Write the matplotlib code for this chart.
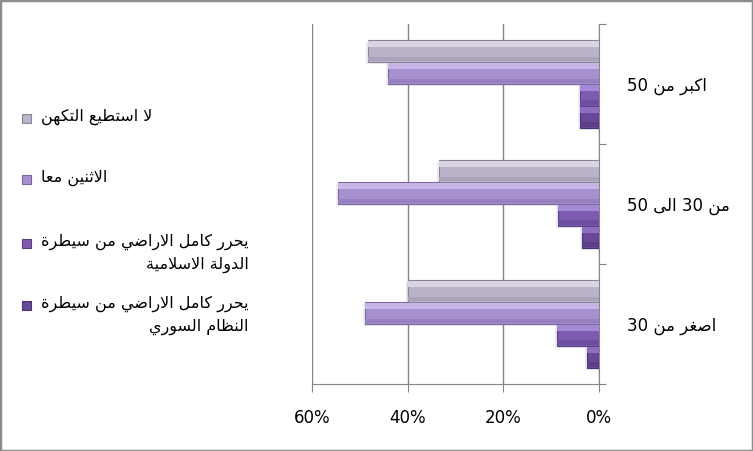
import matplotlib
matplotlib.use("Agg")
import matplotlib.pyplot as plt
from matplotlib.patches import Rectangle
import numpy as np

# Age groups, bottom to top as drawn.
categories = ["اصغر من 30", "من 30 الى 50", "اكبر من 50"]

# Series in drawing order (bottom bar of each group first).
series_names = [
    "يحرر كامل الاراضي من سيطرة\nالنظام السوري",
    "يحرر كامل الاراضي من سيطرة\nالدولة الاسلامية",
    "الاثنين معا",
    "لا استطيع التكهن",
]
regime = [2.5, 3.6, 3.9]
isis = [8.7, 8.6, 3.9]
both = [48.9, 54.6, 44.1]
cant_say = [40.0, 33.5, 48.3]

x_ticks = [0, 20, 40, 60]
x_tick_labels = ["0%", "20%", "40%", "60%"]

# (face, highlight, lower shade, edge) per series
COLORS = [
    ("#684898", "#8d6ebf", "#5a3e86", "#4a2f72"),
    ("#7c5bb1", "#a489d4", "#6c4f9e", "#583e84"),
    ("#a690cf", "#c6b6e6", "#9681bf", "#7c67a3"),
    ("#bab3c9", "#d9d4e4", "#aaa3b9", "#8b8499"),
]

W, H = 753, 451

# --- minimal Arabic shaping: matplotlib does no bidi or joining itself ---
_FOUR = "بتثجحخسشصضطظعغفقكلمنهي"
_FOUR_START = [0xFE8F, 0xFE95, 0xFE99, 0xFE9D, 0xFEA1, 0xFEA5, 0xFEB1,
               0xFEB5, 0xFEB9, 0xFEBD, 0xFEC1, 0xFEC5, 0xFEC9, 0xFECD,
               0xFED1, 0xFED5, 0xFED9, 0xFEDD, 0xFEE1, 0xFEE5, 0xFEE9,
               0xFEF1]
_TWO = "اأإآدذرزوؤةى"
_TWO_START = [0xFE8D, 0xFE83, 0xFE87, 0xFE81, 0xFEA9, 0xFEAB, 0xFEAD,
              0xFEAF, 0xFEED, 0xFE85, 0xFE93, 0xFEEF]
_LAM_ALEF = {"ا": 0xFEFB, "أ": 0xFEF7, "إ": 0xFEF9, "آ": 0xFEF5}
_START = dict(zip(_FOUR, _FOUR_START))
_START.update(zip(_TWO, _TWO_START))


def shape_word(word):
    glyphs = []
    i = 0
    while i < len(word):
        ch = word[i]
        if ch == "ل" and i + 1 < len(word) and word[i + 1] in _LAM_ALEF:
            glyphs.append((_LAM_ALEF[word[i + 1]], 2))
            i += 2
            continue
        if ch in _FOUR:
            glyphs.append((_START[ch], 4))
        elif ch in _TWO:
            glyphs.append((_START[ch], 2))
        else:
            glyphs.append((ch, 0))
        i += 1
    out = []
    for k, (g, n) in enumerate(glyphs):
        if n == 0:
            out.append(g)
            continue
        prev_joins = k > 0 and glyphs[k - 1][1] == 4
        next_joins = n == 4 and k + 1 < len(glyphs) and glyphs[k + 1][1] > 0
        if prev_joins and next_joins:
            off = 3
        elif prev_joins:
            off = 1
        elif next_joins:
            off = 2
        else:
            off = 0
        out.append(chr(g + off))
    return "".join(out)


def visual(text):
    lines = []
    for line in text.split("\n"):
        words = []
        for w in line.split(" "):
            if any(c in _START for c in w):
                words.append(shape_word(w)[::-1])
            else:
                words.append(w)
        lines.append(" ".join(reversed(words)))
    return "\n".join(lines)


fig = plt.figure(figsize=(W / 100, H / 100), dpi=100)
ax = fig.add_axes([312 / W, 1 - 384 / H, (599 - 312) / W, (384 - 24) / H])

values = [regime, isis, both, cant_say]
y = np.arange(len(categories))
h = 0.183
offsets = [-1.5, -0.5, 0.5, 1.5]

for vals, off in zip(values, offsets):
    ax.barh(y + off * h - 0.02, np.array(vals) + 0.4, height=h, left=0,
            color="#000000", alpha=0.07, lw=0, zorder=2)
for vals, off, (face, hi, shade, edge) in zip(values, offsets, COLORS):
    yy = y + off * h
    ax.barh(yy, vals, height=h, color=face, edgecolor=edge, lw=0.8, zorder=3)
    ax.barh(yy + h * 0.32, vals, height=h * 0.3, color=hi, lw=0, zorder=4)
    ax.barh(yy - h * 0.36, vals, height=h * 0.22, color=shade, lw=0, zorder=4)

ax.set_xlim(60, 0)
ax.set_ylim(-0.5, 2.5)
ax.set_xticks(x_ticks)
ax.set_xticklabels(x_tick_labels, fontsize=12)
ax.grid(axis="x", color="#868686", lw=1, zorder=0)
ax.set_axisbelow(True)

ax.yaxis.set_ticks_position("right")
ax.set_yticks([-0.5, 0.5, 1.5, 2.5])
ax.set_yticklabels([])
ax.set_yticks(y, minor=True)
ax.set_yticklabels([visual(c) for c in categories], minor=True, fontsize=12)
ax.tick_params(axis="y", which="minor", length=0, pad=20)
ax.tick_params(axis="y", which="major", length=5, color="#868686",
               direction="out")
ax.tick_params(axis="x", length=6, color="#868686", direction="out", pad=12)

for side in ("top", "left"):
    ax.spines[side].set_visible(False)
for side in ("bottom", "right"):
    ax.spines[side].set_color("#868686")

# legend, top entry first
legend_rows = [118, 179, 243, 305]
for name, (face, hi, shade, edge), row in zip(series_names[::-1],
                                              COLORS[::-1], legend_rows):
    fig.patches.append(Rectangle((22 / W, 1 - (row + 4.5) / H), 9 / W, 9 / H,
                                 transform=fig.transFigure,
                                 facecolor=face, edgecolor=edge, lw=0.8))
    fig.text(41 / W, 1 - (row - 9) / H, visual(name), ha="left", va="top",
             multialignment="right", fontsize=11.5, linespacing=1.5)

fig.patches.append(Rectangle((0, 0), 1, 1, transform=fig.transFigure,
                             fill=False, edgecolor="#8c8c8c", lw=2.5))

fig.savefig("out.png", dpi=100)
